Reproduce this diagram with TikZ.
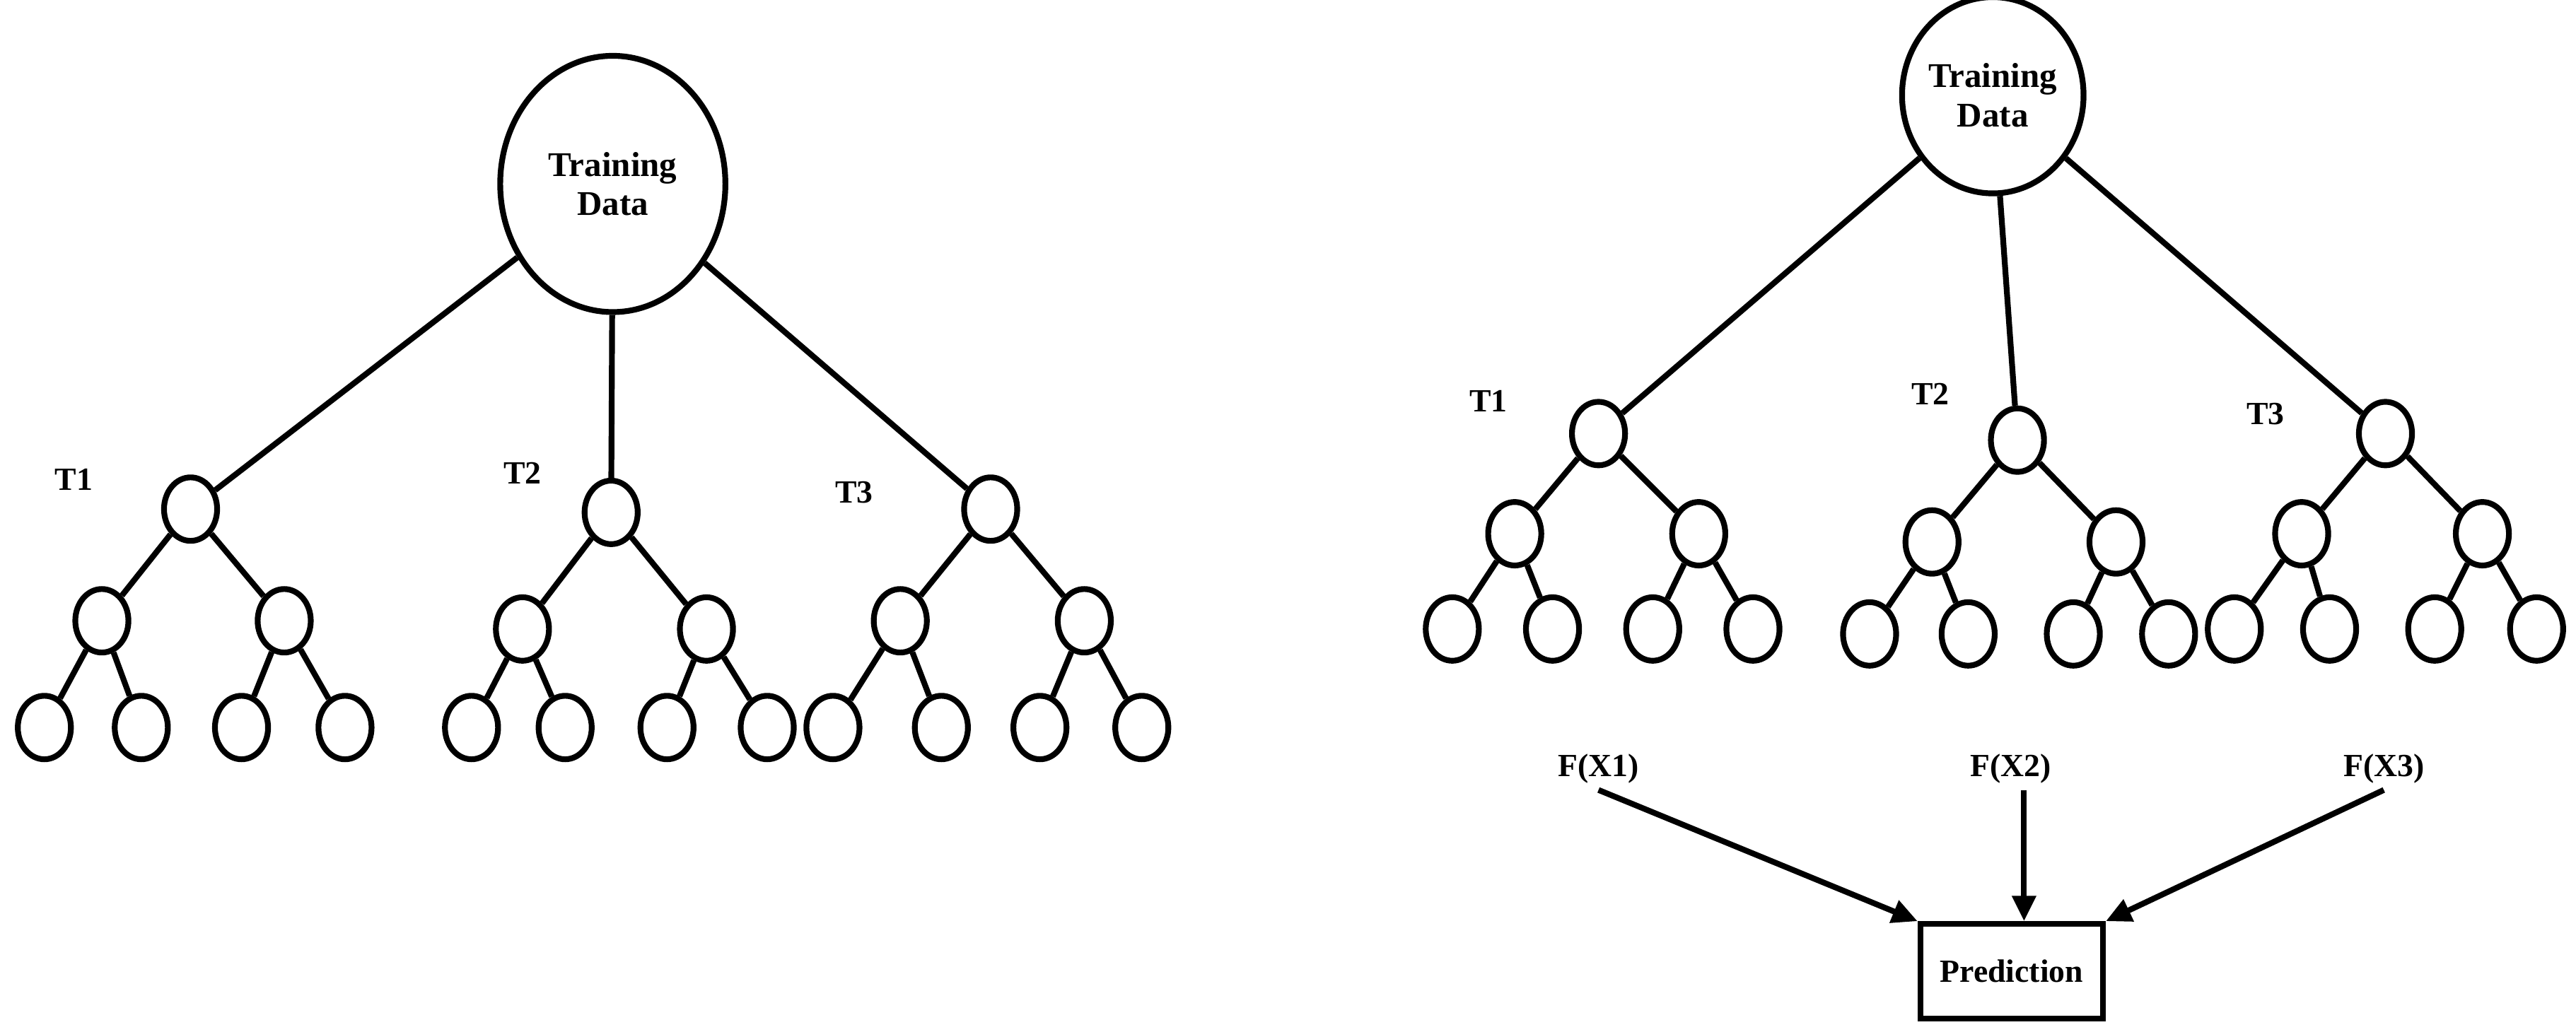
\documentclass[tikz,border=0pt]{standalone}
\usepackage{fontspec}
\setmainfont{Liberation Serif}
\usetikzlibrary{shapes.geometric,arrows.meta}
\begin{document}
\begin{tikzpicture}[x=0.05cm,y=-0.05cm,line width=5pt,
  sn/.style={ellipse,draw,fill=white,minimum width=46pt,minimum height=55pt,inner sep=0pt},
  root/.style={ellipse,draw,fill=white,align=center,font=\bfseries\fontsize{30}{34}\selectfont,inner sep=0pt},
  lbl/.style={font=\bfseries\fontsize{28}{30}\selectfont},
  arr/.style={-{Triangle[length=22pt,width=20pt]}}]
\useasboundingbox (0,0) rectangle (1568,628);
% ---------- left ----------
\node[root,minimum width=195pt,minimum height=222pt] (LR) at (373,112) {Training\\Data};
\foreach \n/\x/\y in {a/116/310,b/372/312,c/603/310}{\node[sn] (L\n) at (\x,\y) {};}
\foreach \n/\x/\y in {a1/62/378,a2/173/378,b1/318/383,b2/430/383,c1/548/378,c2/660/378}{\node[sn] (L\n) at (\x,\y) {};}
\foreach \n/\x in {a11/27,a12/86,a21/147,a22/210,b11/287,b12/344,b21/406,b22/467,c11/507,c12/573,c21/633,c22/695}{\node[sn] (L\n) at (\x,443) {};}
\foreach \p in {a,b,c}{
  \draw (LR) -- (L\p);
  \draw (L\p) -- (L\p1); \draw (L\p) -- (L\p2);
  \draw (L\p1) -- (L\p11); \draw (L\p1) -- (L\p12);
  \draw (L\p2) -- (L\p21); \draw (L\p2) -- (L\p22);}
\node[lbl] (LT1) at (45,292) {T1};
\node[lbl] (LT2) at (318,288) {T2};
\node[lbl] (LT3) at (520,300) {T3};
% ---------- right ----------
\node[root,minimum width=153pt,minimum height=170pt] (RR) at (1213,58) {Training\\Data};
\foreach \n/\x/\y in {a/973/264,b/1228/268,c/1452/264}{\node[sn] (R\n) at (\x,\y) {};}
\foreach \n/\x/\y in {a1/922/325,a2/1034/325,b1/1176/330,b2/1288/330,c1/1401/325,c2/1511/325}{\node[sn] (R\n) at (\x,\y) {};}
\foreach \n/\x/\y in {a11/884/383,a12/945/383,a21/1006/383,a22/1067/383,b11/1138/386,b12/1198/386,b21/1262/386,b22/1320/386,c11/1360/383,c12/1418/383,c21/1482/383,c22/1544/383}{\node[sn] (R\n) at (\x,\y) {};}
\foreach \p in {a,b,c}{
  \draw (RR) -- (R\p);
  \draw (R\p) -- (R\p1); \draw (R\p) -- (R\p2);
  \draw (R\p1) -- (R\p11); \draw (R\p1) -- (R\p12);
  \draw (R\p2) -- (R\p21); \draw (R\p2) -- (R\p22);}
\node[lbl] (RT1) at (906,244) {T1};
\node[lbl] (RT2) at (1175,240) {T2};
\node[lbl] (RT3) at (1379,252) {T3};
\node[lbl] (F1) at (973,468) {F(X1)};
\node[lbl] (F2) at (1224,468) {F(X2)};
\node[lbl] (F3) at (1451,468) {F(X3)};
\node[draw,lbl,minimum width=158pt,minimum height=82pt] (P) at (1224.5,591.5) {Prediction};
\draw[arr] (F1.south) -- (P.north west);
\draw[arr] (F2.south -| 1232,0) -- (P.north -| 1232,0);
\draw[arr] (F3.south) -- (P.north east);
\end{tikzpicture}
\end{document}
